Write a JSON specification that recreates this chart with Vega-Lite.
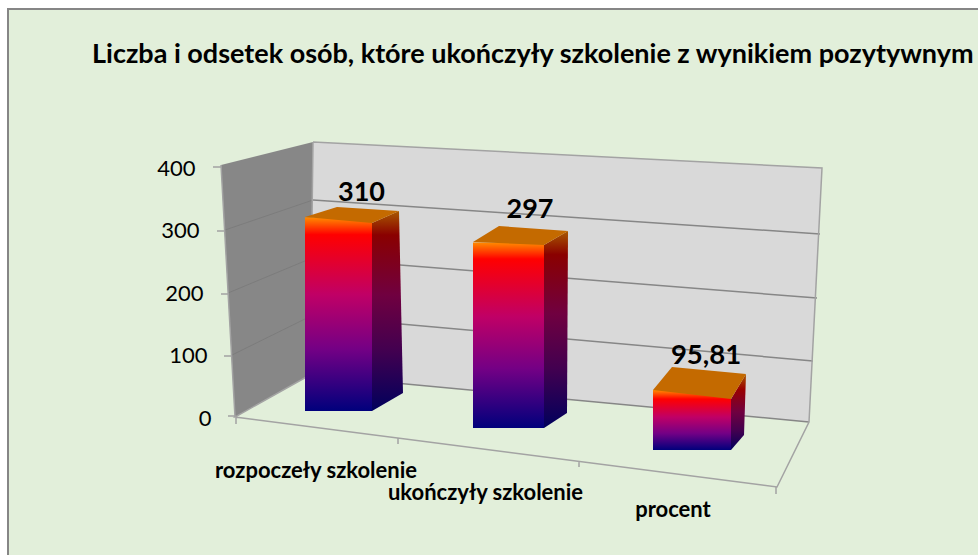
{
"$schema":"https://vega.github.io/schema/vega-lite/v6.json",
"width":975,"height":550,
"autosize":{"type":"none"},
"padding":{"left":8,"top":9,"right":0,"bottom":0},
"background":"#ffffff",
"view":{"fill":"#e2efda","stroke":"#868686","strokeWidth":2},
"title":{"text":"Liczba i odsetek osób, które ukończyły szkolenie z wynikiem pozytywnym","anchor":"start","frame":"group","dx":84,"dy":60,"offset":0,"font":"Lato","fontWeight":"bold","fontSize":27,"color":"#000000"},
"datasets":{
 "dane":[
  {"kategoria":"rozpoczeły szkolenie","wartosc":310,"etykieta":"310"},
  {"kategoria":"ukończyły szkolenie","wartosc":297,"etykieta":"297"},
  {"kategoria":"procent","wartosc":95.81,"etykieta":"95,81"}
 ],
 "podstawa":[{"kategoria":"ukończyły szkolenie","wartosc":0}]
},
"data":{"name":"dane"},
"encoding":{
 "x":{"field":"kategoria","type":"nominal","sort":null,
  "scale":{"domain":["rozpoczeły szkolenie","ukończyły szkolenie","procent"],"range":[305,812],"padding":0},
  "axis":{"title":null,"orient":"bottom","offset":-146,"domain":false,"ticks":false,"labelAngle":0,"labelAlign":"center","labelBaseline":"middle","labelFont":"Lato","labelFontWeight":"bold","labelFontSize":22,"labelColor":"#000000","labelLimit":0,
   "labelOffset":{"condition":[{"test":"datum.value=='rozpoczeły szkolenie'","value":-81.5},{"test":"datum.value=='ukończyły szkolenie'","value":-81}],"value":-62.5},
   "labelPadding":{"condition":[{"test":"datum.value=='rozpoczeły szkolenie'","value":57},{"test":"datum.value=='ukończyły szkolenie'","value":79}],"value":96}}},
 "y":{"field":"wartosc","type":"quantitative",
  "scale":{"domain":[0,400],"range":[409,159],"nice":false},
  "axis":{"title":null,"offset":-212,"values":[0,100,200,300,400],"grid":false,"domain":false,"ticks":false,"labelFont":"Lato","labelFontSize":22,"labelColor":"#000000",
   "labelPadding":{"condition":[{"test":"datum.value==400","value":25},{"test":"datum.value==300","value":21},{"test":"datum.value==200","value":17},{"test":"datum.value==100","value":13}],"value":9}}}
},
"layer":[
 {"data":{"name":"podstawa"},"mark":{"type":"point","filled":true,"opacity":1,"size":4,"fill":"#d9d9d9","stroke":null,"shape":"M-253.5,-276L255.5,-250L242.5,4L-256.5,-43Z"}},
 {"data":{"name":"podstawa"},"mark":{"type":"point","filled":true,"opacity":1,"size":4,"fill":"#878787","stroke":null,"shape":"M-345.5,-253L-253.5,-276L-256.5,-43L-331.5,-1Z"}},
 {"data":{"name":"podstawa"},"mark":{"type":"point","filled":false,"opacity":1,"size":4,"fill":null,"stroke":"#7c7c7c","strokeWidth":1,"shape":"M-341.5,-188L-253.5,-218M-338.5,-125L-254.5,-160M-334.5,-63L-255.5,-102"}},
 {"data":{"name":"podstawa"},"mark":{"type":"point","filled":false,"opacity":1,"size":4,"fill":null,"stroke":"#868686","strokeWidth":1.5,"shape":"M-253.5,-218L253.5,-184M-254.5,-160L250.5,-120M-255.5,-102L246.5,-57M-256.5,-43L242.5,4"}},
 {"data":{"name":"podstawa"},"mark":{"type":"point","filled":false,"opacity":1,"size":4,"fill":null,"stroke":"#a3a3a3","strokeWidth":1.5,"shape":"M-253.5,-276L255.5,-250L242.5,4L210.5,69L-331.5,-1L-256.5,-43L-253.5,-276M-345.5,-253L-331.5,-1M-330.5,-1L-330.5,6M-168.5,20L-168.5,26M12.5,43L12.5,49M209.5,69L209.5,76M-353.5,-251L-345.5,-251M-349.5,-187L-341.5,-187M-345.5,-124L-337.5,-124M-342.5,-62L-334.5,-62M-338.5,-2L-330.5,-2"}},

 {"transform":[{"filter":"datum.kategoria=='rozpoczeły szkolenie'"}],"mark":{"type":"bar","width":67,"xOffset":-59,"yOffset":-7,"fill":{"gradient":"linear","x1":0,"y1":0,"x2":0,"y2":1,"stops":[{"offset":0,"color":"#ff8c00"},{"offset":0.09,"color":"#ff0000"},{"offset":0.4,"color":"#c00066"},{"offset":0.68,"color":"#740085"},{"offset":1,"color":"#00007c"}]}}},
 {"transform":[{"filter":"datum.kategoria=='rozpoczeły szkolenie'"}],"mark":{"type":"point","filled":true,"opacity":1,"size":4,"stroke":null,"fill":{"gradient":"linear","x1":0,"y1":0,"x2":0,"y2":1,"stops":[{"offset":0,"color":"#a85a00"},{"offset":0.12,"color":"#8a0000"},{"offset":0.42,"color":"#700040"},{"offset":0.7,"color":"#420050"},{"offset":1,"color":"#00005c"}]},"shape":"M-25.5,-1.25L1.5,-13.25L5.5,168.75L-25.5,186.75Z"}},
 {"transform":[{"filter":"datum.kategoria=='rozpoczeły szkolenie'"}],"mark":{"type":"point","filled":true,"opacity":1,"size":4,"stroke":null,"fill":"#c46a00","shape":"M-92.5,-7.25L-25.5,-1.25L1.5,-13.25L-60.5,-17.25Z"}},
 {"transform":[{"filter":"datum.kategoria=='rozpoczeły szkolenie'"}],"mark":{"type":"text","font":"Lato","fontWeight":"bold","fontSize":27,"color":"#000000","align":"center","baseline":"middle","dx":-36,"dy":-31},"encoding":{"text":{"field":"etykieta"}}},

 {"transform":[{"filter":"datum.kategoria=='ukończyły szkolenie'"}],"mark":{"type":"bar","width":71,"xOffset":-58,"yOffset":10,"fill":{"gradient":"linear","x1":0,"y1":0,"x2":0,"y2":1,"stops":[{"offset":0,"color":"#ff8c00"},{"offset":0.09,"color":"#ff0000"},{"offset":0.4,"color":"#c00066"},{"offset":0.68,"color":"#740085"},{"offset":1,"color":"#00007c"}]}}},
 {"transform":[{"filter":"datum.kategoria=='ukończyły szkolenie'"}],"mark":{"type":"point","filled":true,"opacity":1,"size":4,"stroke":null,"fill":{"gradient":"linear","x1":0,"y1":0,"x2":0,"y2":1,"stops":[{"offset":0,"color":"#a85a00"},{"offset":0.12,"color":"#8a0000"},{"offset":0.42,"color":"#700040"},{"offset":0.7,"color":"#420050"},{"offset":1,"color":"#00005c"}]},"shape":"M-22.5,12.6L1.5,-1.4L0.5,180.6L-22.5,195.6Z"}},
 {"transform":[{"filter":"datum.kategoria=='ukończyły szkolenie'"}],"mark":{"type":"point","filled":true,"opacity":1,"size":4,"stroke":null,"fill":"#c46a00","shape":"M-93.5,9.6L-22.5,12.6L1.5,-1.4L-67.5,-6.4Z"}},
 {"transform":[{"filter":"datum.kategoria=='ukończyły szkolenie'"}],"mark":{"type":"text","font":"Lato","fontWeight":"bold","fontSize":27,"color":"#000000","align":"center","baseline":"middle","dx":-36.5,"dy":-22},"encoding":{"text":{"field":"etykieta"}}},

 {"transform":[{"filter":"datum.kategoria=='procent'"}],"mark":{"type":"bar","width":78,"xOffset":-43.5,"yOffset":32,"fill":{"gradient":"linear","x1":0,"y1":0,"x2":0,"y2":1,"stops":[{"offset":0,"color":"#ff8c00"},{"offset":0.15,"color":"#ff0000"},{"offset":0.45,"color":"#c00066"},{"offset":0.72,"color":"#740085"},{"offset":1,"color":"#00007c"}]}}},
 {"transform":[{"filter":"datum.kategoria=='procent'"}],"mark":{"type":"point","filled":true,"opacity":1,"size":4,"stroke":null,"fill":{"gradient":"linear","x1":0,"y1":0,"x2":0,"y2":1,"stops":[{"offset":0,"color":"#a85a00"},{"offset":0.2,"color":"#9a0000"},{"offset":0.5,"color":"#700040"},{"offset":0.75,"color":"#420050"},{"offset":1,"color":"#00005c"}]},"shape":"M-4.5,40.9L10.5,15.9L8.5,76.9L-4.5,91.9Z"}},
 {"transform":[{"filter":"datum.kategoria=='procent'"}],"mark":{"type":"point","filled":true,"opacity":1,"size":4,"stroke":null,"fill":"#c46a00","shape":"M-82.5,31.9L-4.5,40.9L10.5,15.9L-63.5,8.9Z"}},
 {"transform":[{"filter":"datum.kategoria=='procent'"}],"mark":{"type":"text","font":"Lato","fontWeight":"bold","fontSize":27.5,"color":"#000000","align":"center","baseline":"middle","dx":-29.5,"dy":-2},"encoding":{"text":{"field":"etykieta"}}}
]
}
